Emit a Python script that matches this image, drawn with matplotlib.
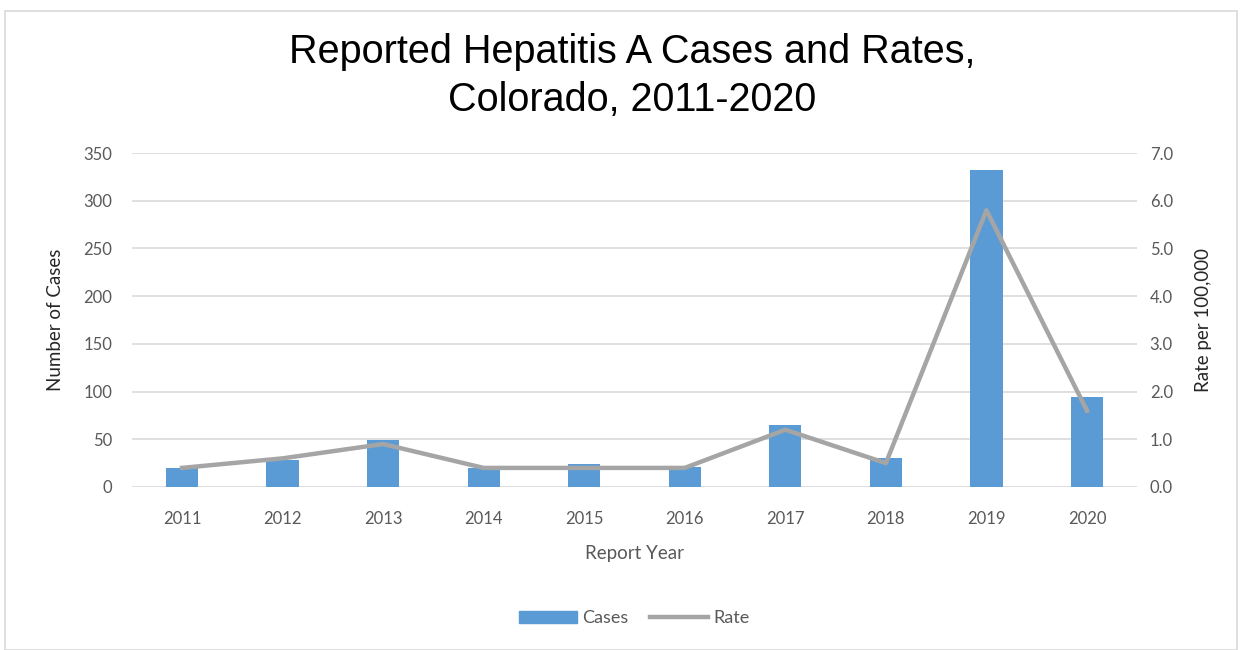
import matplotlib
matplotlib.use('Agg')
import matplotlib.pyplot as plt
from matplotlib.patches import Rectangle
from matplotlib.lines import Line2D

# Colorado hepatitis A surveillance, 2011-2020
years = ['2011', '2012', '2013', '2014', '2015', '2016', '2017', '2018', '2019', '2020']
cases = [20, 28, 49, 20, 24, 21, 65, 30, 332, 94]
rates = [0.4, 0.6, 0.9, 0.4, 0.4, 0.4, 1.2, 0.5, 5.8, 1.6]

bar_color = '#5B9BD5'
line_color = '#A5A5A5'
text_color = '#595959'
grid_color = '#D9D9D9'

plt.rcParams['font.family'] = ['Lato', 'DejaVu Sans']

fig = plt.figure(figsize=(12.44, 6.5), dpi=100)
# light frame around the whole chart
fig.patches.append(Rectangle((0.004, 0.0), 0.99, 0.983, transform=fig.transFigure,
                             fill=False, edgecolor='#D9D9D9', linewidth=1.2))

ax = fig.add_axes([0.1059, 0.2508, 0.8083, 0.5138])
x = range(len(years))
ax.bar(x, cases, width=0.32, color=bar_color, zorder=2)
ax.set_xlim(-0.5, len(years) - 0.5)
ax.set_ylim(0, 350)
ax.set_yticks(range(0, 351, 50))
ax.set_xticks(list(x))
ax.set_xticklabels(years)
ax.yaxis.grid(True, color=grid_color, linewidth=1.2, zorder=0)
ax.set_axisbelow(True)
for s in ax.spines.values():
    s.set_visible(False)
ax.tick_params(axis='both', length=0, labelsize=12, labelcolor=text_color)
ax.tick_params(axis='y', pad=14)
ax.tick_params(axis='x', pad=17)
ax.set_xlabel('Report Year', fontsize=13.5, color=text_color, labelpad=13)
ax.set_ylabel('Number of Cases', fontsize=13.5, color='#262626', labelpad=14)

ax2 = ax.twinx()
ax2.plot(list(x), rates, color=line_color, linewidth=3.2, solid_joinstyle='round', zorder=3)
ax2.set_ylim(0, 7.0)
ax2.set_yticks([i * 1.0 for i in range(8)])
ax2.set_yticklabels(['%.1f' % (i * 1.0) for i in range(8)])
for s in ax2.spines.values():
    s.set_visible(False)
ax2.tick_params(axis='y', length=0, labelsize=12, labelcolor=text_color, pad=9)
ax2.set_ylabel('Rate per 100,000', fontsize=13.5, color='#262626', labelpad=16)

fig.text(0.508, 0.883, 'Reported Hepatitis A Cases and Rates,\nColorado, 2011-2020',
         ha='center', va='center', fontsize=28.5, family=['Liberation Sans', 'DejaVu Sans'],
         color='black', linespacing=1.32)

handles = [Rectangle((0, 0), 1, 1, color=bar_color),
           Line2D([0], [0], color=line_color, linewidth=3.2)]
fig.legend(handles, ['Cases', 'Rate'], loc='center', bbox_to_anchor=(0.51, 0.049),
           ncol=2, frameon=False, fontsize=13, labelcolor=text_color,
           handlelength=3.2, handleheight=0.6, columnspacing=1.2, handletextpad=0.3)

fig.savefig('out.png', dpi=100)
